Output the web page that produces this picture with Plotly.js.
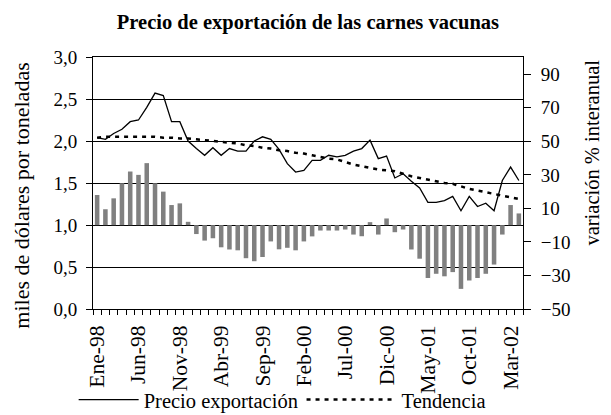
<!DOCTYPE html>
<html>
<head>
<meta charset="utf-8">
<script src="https://cdn.plot.ly/plotly-3.0.1.min.js"></script>
<style>html,body{margin:0;padding:0;background:#fff;}#chart{width:611px;height:415px;}</style>
</head>
<body>
<div id="chart"></div>
<script>
// Months Ene-98 .. Abr-02
const months = [
  "Ene-98","Feb-98","Mar-98","Abr-98","May-98","Jun-98","Jul-98","Ago-98","Sep-98","Oct-98","Nov-98","Dic-98",
  "Ene-99","Feb-99","Mar-99","Abr-99","May-99","Jun-99","Jul-99","Ago-99","Sep-99","Oct-99","Nov-99","Dic-99",
  "Ene-00","Feb-00","Mar-00","Abr-00","May-00","Jun-00","Jul-00","Ago-00","Sep-00","Oct-00","Nov-00","Dic-00",
  "Ene-01","Feb-01","Mar-01","Abr-01","May-01","Jun-01","Jul-01","Ago-01","Sep-01","Oct-01","Nov-01","Dic-01",
  "Ene-02","Feb-02","Mar-02","Abr-02"
];
// Precio exportación (miles de dólares por tonelada)
const precio = [
  2.04,2.02,2.09,2.14,2.23,2.25,2.40,2.57,2.54,2.23,2.23,2.00,
  1.91,1.83,1.92,1.83,1.91,1.88,1.88,2.00,2.05,2.02,1.90,1.73,
  1.63,1.65,1.77,1.77,1.83,1.81,1.83,1.88,1.91,2.01,1.79,1.82,
  1.56,1.61,1.52,1.44,1.27,1.27,1.29,1.34,1.17,1.34,1.22,1.26,
  1.17,1.53,1.69,1.53
];
// Tendencia
const tendencia = [
  2.04,2.05,2.05,2.05,2.05,2.05,2.05,2.05,2.04,2.04,2.03,2.03,
  2.02,2.01,2.00,1.99,1.98,1.97,1.95,1.94,1.92,1.91,1.89,1.88,
  1.86,1.85,1.83,1.81,1.79,1.78,1.75,1.72,1.70,1.68,1.66,1.65,
  1.64,1.61,1.58,1.56,1.54,1.52,1.50,1.49,1.46,1.43,1.41,1.39,
  1.37,1.35,1.33,1.31
];
// Variación % interanual
const variacion = [
  18,9.5,16,25,32,30,37,25,20,12,13,2,
  -5.3,-9.2,-7.8,-13.2,-14.5,-15,-19.7,-21.5,-19,-9.7,-14.4,-13.5,
  -15,-9.7,-6.7,-3.2,-3.2,-3.2,-2.6,-5.6,-6.6,1.8,-5.6,4,
  -4.2,-2.6,-14.5,-20,-31.5,-29,-30.5,-28,-38,-33,-31.5,-29,
  -23.5,-5.6,12,7
];
const xTickLabels = ["Ene-98","Jun-98","Nov-98","Abr-99","Sep-99","Feb-00","Jul-00","Dic-00","May-01","Oct-01","Mar-02"];
const yLeftTicks = [0,0.5,1,1.5,2,2.5,3];
const yRightTicks = [-50,-30,-10,10,30,50,70,90];

const xIdx = months.map((m, i) => i);
const xTickVals = xTickLabels.map(l => months.indexOf(l));
const serif = "Liberation Serif";

const traces = [
  {
    type: "bar", x: xIdx, y: variacion, yaxis: "y2", name: "Variación",
    marker: {color: "#808080", line: {width: 0}}, showlegend: false, hoverinfo: "skip"
  },
  {
    type: "scatter", mode: "lines", x: xIdx, y: precio, name: "Precio exportación",
    line: {color: "#000", width: 1.3}, legend: "legend"
  },
  {
    type: "scatter", mode: "lines", x: xIdx, y: tendencia, name: "Tendencia",
    line: {color: "#000", width: 2.5, dash: "4px,5px"}, legend: "legend2"
  }
];

const legendFont = {family: serif, size: 20.5, color: "#000"};

const layout = {
  width: 611, height: 415,
  margin: {l: 93, r: 88, t: 57, b: 106, pad: 0, autoexpand: false},
  paper_bgcolor: "#fff", plot_bgcolor: "#fff",
  separators: ",.",
  font: {family: serif, size: 19, color: "#000"},
  bargap: 0.45,
  title: {
    text: "<b>Precio de exportación de las carnes vacunas</b>",
    font: {family: serif, size: 20.5, color: "#000"},
    x: 0.504, xanchor: "center", y: 0.947, yanchor: "middle"
  },
  xaxis: {
    range: [-0.5, xIdx.length - 0.5],
    tickmode: "array", tickvals: xTickVals, ticktext: xTickLabels,
    tickangle: -90, ticks: "", showgrid: false, zeroline: false,
    showline: true, linecolor: "#000", linewidth: 1, mirror: true,
    ticklabelstandoff: 7,
    tickfont: {family: serif, size: 21.5, color: "#000"},
    minor: {ticks: "outside", tick0: -0.5, dtick: 1, ticklen: 5, tickcolor: "#000", tickwidth: 1, showgrid: false}
  },
  yaxis: {
    range: [0, 3], tickmode: "array", tickvals: yLeftTicks, tickformat: ".1f",
    showgrid: true, gridcolor: "#000", gridwidth: 1, zeroline: false,
    showline: true, linecolor: "#000", linewidth: 1,
    ticks: "outside", ticklen: 6, tickcolor: "#000",
    ticklabelstandoff: 5,
    tickfont: {family: serif, size: 19, color: "#000"}
  },
  yaxis2: {
    overlaying: "y", side: "right", range: [-50, 100.3],
    tickmode: "array", tickvals: yRightTicks,
    showgrid: false, zeroline: false,
    showline: true, linecolor: "#000", linewidth: 1,
    ticks: "outside", ticklen: 7, tickcolor: "#000",
    ticklabelstandoff: 6,
    tickfont: {family: serif, size: 19, color: "#000"}
  },
  showlegend: true,
  legend: {
    orientation: "h", x: -0.045, xanchor: "left", y: -0.36, yanchor: "middle",
    font: legendFont, bgcolor: "rgba(0,0,0,0)", itemwidth: 60
  },
  legend2: {
    orientation: "h", x: 0.485, xanchor: "left", y: -0.36, yanchor: "middle",
    font: legendFont, bgcolor: "rgba(0,0,0,0)", itemwidth: 90
  },
  annotations: [
    {
      text: "miles de dólares por toneladas", textangle: -90,
      xref: "paper", yref: "paper", x: -0.165, y: 0.45, xanchor: "center", yanchor: "middle",
      showarrow: false, font: {family: serif, size: 22, color: "#000"}
    },
    {
      text: "variación % interanual", textangle: -90,
      xref: "paper", yref: "paper", x: 1.16, y: 0.62, xanchor: "center", yanchor: "middle",
      showarrow: false, font: {family: serif, size: 20.5, color: "#000"}
    }
  ]
};

Plotly.newPlot("chart", traces, layout, {displayModeBar: false, staticPlot: true});
</script>
</body>
</html>
